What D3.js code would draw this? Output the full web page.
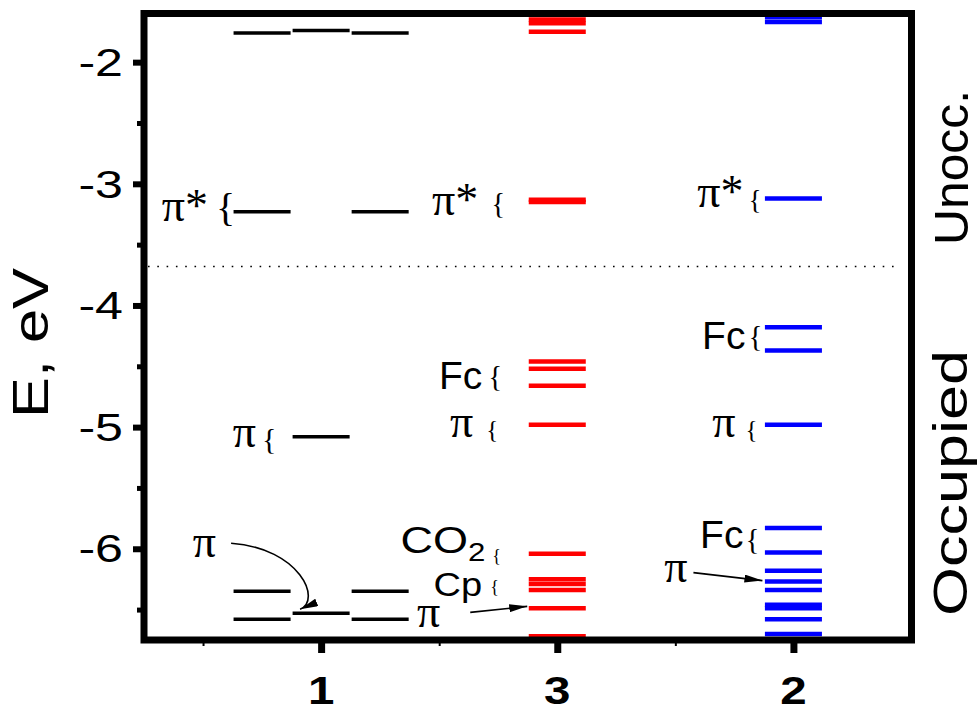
<!DOCTYPE html>
<html>
<head>
<meta charset="utf-8">
<script src="https://cdn.jsdelivr.net/npm/d3@7"></script>
<style>
  html, body { margin: 0; padding: 0; background: #fff; }
  svg { display: block; }
</style>
</head>
<body>
<svg id="chart" width="979" height="712"></svg>
<script>
// Orbital energy levels (eV) of compounds 1, 3 and 2
const categories = ["1", "3", "2"];
const yTickValues = [-2, -3, -4, -5, -6];
const yMinorTickValues = [-2.5, -3.5, -4.5, -5.5, -6.5];
const xMinorTickValues = [0.5, 1.5, 2.5];

// compound 1 is split into three fragments (left, middle, right)
const levels1Left  = [-1.76, -3.23, -6.35, -6.58];
const levels1Mid   = [-1.74, -5.08, -6.53];
const levels1Right = [-1.76, -3.23, -6.35, -6.58];
// compound 3
const levels3 = [-1.65, -1.68, -1.75, -3.13, -3.15, -4.46, -4.52, -4.66, -4.98,
                 -6.04, -6.25, -6.29, -6.34, -6.49, -6.72];
// compound 2
const levels2 = [-1.63, -1.67, -3.12, -4.18, -4.37, -4.98, -5.83, -6.03, -6.18,
                 -6.27, -6.34, -6.46, -6.49, -6.58, -6.70];

// HOMO/LUMO divide between occupied and unoccupied orbitals
const gapEnergy = -3.68;

// Orbital assignments: which column and level each label refers to
const assignLabels = [
  { id: "a", col: "1L", e: -3.23, text: "π*" },
  { id: "b", col: "3",  e: -3.13, text: "π*" },
  { id: "c", col: "2",  e: -3.12, text: "π*" },
  { id: "d", col: "1M", e: -5.08, text: "π" },
  { id: "e", col: "3",  e: -4.52, text: "Fc" },
  { id: "f", col: "3",  e: -4.98, text: "π" },
  { id: "g", col: "2",  e: -4.18, text: "Fc" },
  { id: "h", col: "2",  e: -4.98, text: "π" },
  { id: "i", col: "2",  e: -5.83, text: "Fc" },
  { id: "j", col: "3",  e: -6.04, text: "CO" },
  { id: "k", col: "3",  e: -6.29, text: "Cp" }
];
const arrowLabels = [
  { id: "m", col: "2",  e: -6.27, text: "π" },
  { id: "n", col: "3",  e: -6.49, text: "π" },
  { id: "p", col: "1M", e: -6.53, text: "π" }
];

// ---------------------------------------------------------------- layout
const plot = { left: 144, right: 911.5, top: 13.5, bottom: 640 };
const svg = d3.select("#chart");
const SANS = "'Liberation Sans', Arial, Helvetica, sans-serif";
const SERIF = "'Liberation Serif', 'Times New Roman', serif";

const x = d3.scaleLinear().domain([0.25, 3.5]).range([plot.left, plot.right]);
const y = d3.scaleLinear().domain([-6.75, -1.6]).range([plot.bottom, plot.top]);

const barW = 0.2415; // level width in category units
const columns = {
  "1L": { pos: 0.75, levels: levels1Left,  color: "#000", sw: 3.5 },
  "1M": { pos: 1.0,  levels: levels1Mid,   color: "#000", sw: 3.5 },
  "1R": { pos: 1.25, levels: levels1Right, color: "#000", sw: 3.5 },
  "3":  { pos: 2.0,  levels: levels3,      color: "#ff0000", sw: 4.5 },
  "2":  { pos: 3.0,  levels: levels2,      color: "#0000ff", sw: 4.5 }
};
const barLeft = key => x(columns[key].pos - barW / 2);

// energy levels
const gLevels = svg.append("g");
Object.entries(columns).forEach(([key, c]) => {
  gLevels.selectAll(null)
    .data(c.levels)
    .enter().append("line")
    .attr("x1", x(c.pos - barW / 2))
    .attr("x2", x(c.pos + barW / 2))
    .attr("y1", d => y(d))
    .attr("y2", d => y(d))
    .attr("stroke", c.color)
    .attr("stroke-width", c.sw);
});

// dotted divide
svg.append("line")
  .attr("x1", plot.left + 4).attr("x2", plot.right - 12)
  .attr("y1", y(gapEnergy)).attr("y2", y(gapEnergy))
  .attr("stroke", "#000").attr("stroke-width", 1.6)
  .attr("stroke-dasharray", "1.6,7.7");

// ---------------------------------------------------------------- axes
const yAxis = d3.axisLeft(y).tickValues(yTickValues).tickSize(11).tickFormat("");
const gy = svg.append("g").attr("transform", `translate(${plot.left},0)`).call(yAxis);
gy.select(".domain").remove();
gy.selectAll(".tick line").attr("stroke-width", 6).attr("stroke", "#000");

const gyMinor = svg.append("g").attr("transform", `translate(${plot.left},0)`)
  .call(d3.axisLeft(y).tickValues(yMinorTickValues).tickSize(7).tickFormat(""));
gyMinor.select(".domain").remove();
gyMinor.selectAll(".tick line").attr("stroke-width", 5).attr("stroke", "#000");

// y tick labels (wide face)
svg.append("g").selectAll("text")
  .data(yTickValues)
  .enter().append("text")
  .attr("transform", d => `translate(123,${y(d)}) scale(1.32,1)`)
  .attr("text-anchor", "end")
  .attr("dy", "0.36em")
  .attr("font-family", SANS)
  .attr("font-size", 38)
  .text(d => d3.format("d")(d).replace("−", "-"));

const xAxis = d3.axisBottom(x).tickValues([1, 2, 3]).tickSize(13).tickFormat("");
const gx = svg.append("g").attr("transform", `translate(0,${plot.bottom})`).call(xAxis);
gx.select(".domain").remove();
gx.selectAll(".tick line").attr("stroke-width", 7).attr("stroke", "#000");

const gxMinor = svg.append("g").attr("transform", `translate(0,${plot.bottom})`)
  .call(d3.axisBottom(x).tickValues(xMinorTickValues).tickSize(6).tickFormat(""));
gxMinor.select(".domain").remove();
gxMinor.selectAll(".tick line").attr("stroke-width", 2).attr("stroke", "#000");

svg.append("g").selectAll("text")
  .data(categories)
  .enter().append("text")
  .attr("transform", (d, i) => `translate(${x(i + 1)},704) scale(1.25,1)`)
  .attr("text-anchor", "middle")
  .attr("font-family", SANS)
  .attr("font-weight", "bold")
  .attr("font-size", 38)
  .text(d => d);

// frame
svg.append("rect")
  .attr("x", plot.left).attr("y", plot.top)
  .attr("width", plot.right - plot.left).attr("height", plot.bottom - plot.top)
  .attr("fill", "none").attr("stroke", "#000").attr("stroke-width", 7);

// axis title and side captions
svg.append("text")
  .attr("transform", "translate(48,418) rotate(-90)")
  .attr("font-family", SANS).attr("font-size", 50)
  .attr("textLength", 150).attr("lengthAdjust", "spacingAndGlyphs")
  .text("E, eV");

svg.append("text")
  .attr("transform", "translate(968,245) rotate(-90)")
  .attr("font-family", SANS).attr("font-size", 49)
  .attr("textLength", 155).attr("lengthAdjust", "spacingAndGlyphs")
  .text("Unocc.");

svg.append("text")
  .attr("transform", "translate(967,616) rotate(-90)")
  .attr("font-family", SANS).attr("font-size", 49)
  .attr("textLength", 266).attr("lengthAdjust", "spacingAndGlyphs")
  .text("Occupied");

// ---------------------------------------------------------------- labels
// offsets (px) from the left end of the labelled level
const labelStyle = {
  a: { tx: -25.5, ty: 9,   font: SERIF, fs: 46, bx: -17.5, by: -4, bfs: 40 },
  b: { tx: -50.5, ty: 15,  font: SERIF, fs: 46, bx: -37.5, by: 3,  bfs: 29 },
  c: { tx: -21.5, ty: 9,   font: SERIF, fs: 46, bx: -16.5, by: 2,  bfs: 27 },
  d: { tx: -36.5, ty: 10,  font: SERIF, fs: 46, bx: -30.5, by: 2,  bfs: 30 },
  e: { tx: -46.5, ty: 20,  font: SANS,  fs: 39, bx: -40.5, by: 7,  bfs: 29 },
  f: { tx: -55.5, ty: 12,  font: SERIF, fs: 46, bx: -42.5, by: 5,  bfs: 25 },
  g: { tx: -19.5, ty: 22,  font: SANS,  fs: 39, bx: -16.5, by: 9,  bfs: 29 },
  h: { tx: -29.5, ty: 12,  font: SERIF, fs: 46, bx: -19.5, by: 5,  bfs: 25 },
  i: { tx: -21.5, ty: 20,  font: SANS,  fs: 39, bx: -19.5, by: 11, bfs: 29 },
  j: { tx: -55.5, ty: -1,  font: SANS,  fs: 36, bx: -36.5, by: 2,  bfs: 18, sub: "2", sx: 1.25 },
  k: { tx: -46.5, ty: 12,  font: SANS,  fs: 34, bx: -38.5, by: 3,  bfs: 18, sx: 1.12 }
};

const gLab = svg.append("g");
assignLabels.forEach(l => {
  const s = labelStyle[l.id];
  const x0 = barLeft(l.col), y0 = y(l.e);
  const t = gLab.append("text")
    .attr("transform", `translate(${x0 + s.tx},${y0 + s.ty}) scale(${s.sx || 1},1)`)
    .attr("text-anchor", "end")
    .attr("font-family", s.font)
    .attr("font-size", s.fs);
  if (s.sub) {
    t.attr("text-anchor", "start");
    t.append("tspan").text(l.text);
    t.append("tspan").attr("font-size", 25).attr("dy", 8).text(s.sub);
    // right-align the composite text
    const w = t.node().getComputedTextLength() * (s.sx || 1);
    t.attr("transform", `translate(${x0 + s.tx + 12 - w},${y0 + s.ty}) scale(${s.sx || 1},1)`);
  } else {
    t.text(l.text);
  }
  gLab.append("text")
    .attr("x", x0 + s.bx).attr("y", y0 + s.by)
    .attr("dominant-baseline", "central")
    .attr("font-family", SERIF)
    .attr("font-size", s.bfs)
    .text("{");
});

// labels pointing at a level with an arrow
const defs = svg.append("defs");
defs.append("marker")
  .attr("id", "head").attr("viewBox", "0 0 18 8")
  .attr("refX", 18).attr("refY", 4)
  .attr("markerWidth", 18).attr("markerHeight", 8)
  .attr("markerUnits", "userSpaceOnUse")
  .attr("orient", "auto")
  .append("path").attr("d", "M0,0 L18,4 L0,8 Z").attr("fill", "#000");

const arrowStyle = {
  m: { tx: -77.5, ty: 0,   path: (a, b) => `M${a - 71.5},${b - 9} L${a - 2.5},${b - 1}` },
  n: { tx: -88.5, ty: 19,  path: (a, b) => `M${a - 58.5},${b + 4} L${a - 1.5},${b - 2}` },
  p: { tx: -76.5, ty: -56, path: (a, b) =>
        `M${a - 61.5},${b - 70} C${a + 7.5},${b - 65} ${a + 29.5},${b - 13} ${a + 7.5},${b - 4}` }
};
arrowLabels.forEach(l => {
  const s = arrowStyle[l.id];
  const x0 = barLeft(l.col), y0 = y(l.e);
  gLab.append("text")
    .attr("x", x0 + s.tx).attr("y", y0 + s.ty)
    .attr("text-anchor", "end")
    .attr("font-family", SERIF).attr("font-size", 46)
    .text(l.text);
  gLab.append("path")
    .attr("d", s.path(x0, y0))
    .attr("fill", "none").attr("stroke", "#000").attr("stroke-width", 1.6)
    .attr("marker-end", "url(#head)");
});
</script>
</body>
</html>
